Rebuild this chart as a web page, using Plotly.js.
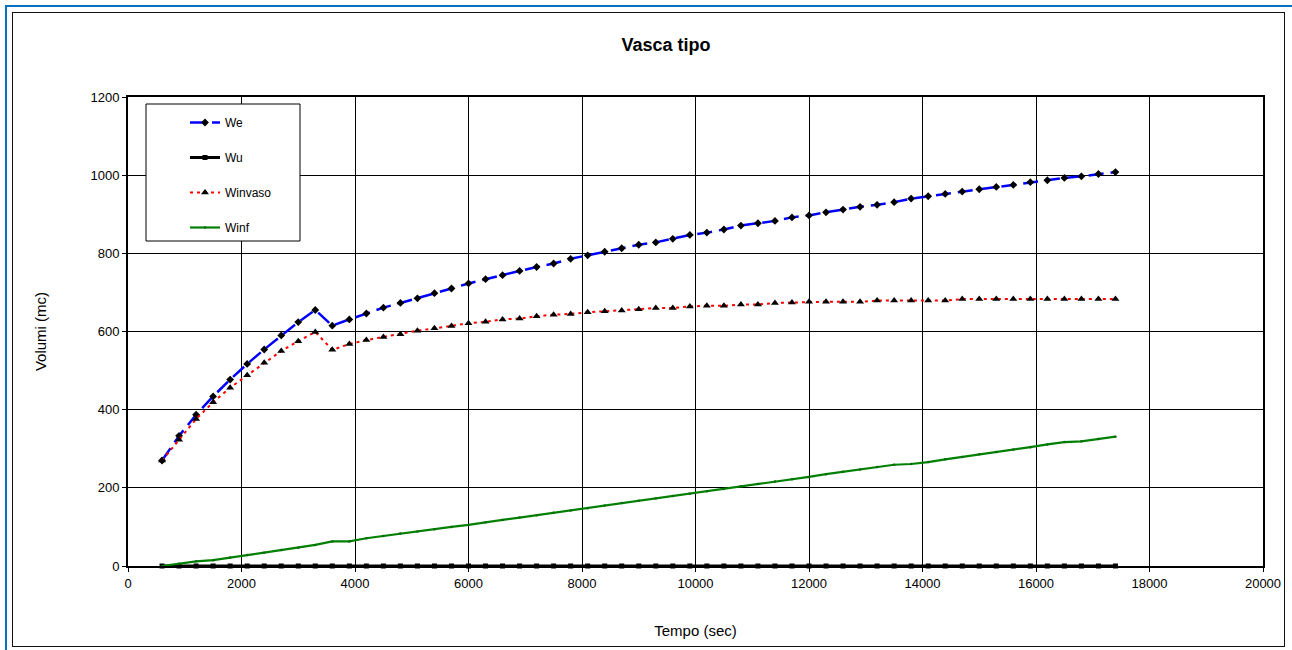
<!DOCTYPE html>
<html>
<head>
<meta charset="utf-8">
<script src="https://cdn.plot.ly/plotly-3.0.1.min.js"></script>
<style>
  html, body { margin: 0; padding: 0; background: #fff; }
  #wrap { position: relative; width: 1292px; height: 650px; overflow: hidden; }
  #chart { position: absolute; left: 0; top: 0; width: 1292px; height: 650px; }
  .frame-blue { position: absolute; left: 5px; top: 5px; width: 1300px; height: 660px; border-left: 2px solid #0a6fc2; border-top: 2px solid #0a6fc2; pointer-events: none; }
  .frame-black { position: absolute; left: 12px; top: 12px; width: 1271px; height: 633px; border: 1.5px solid #111; pointer-events: none; }
</style>
</head>
<body>
<div id="wrap">
  <div id="chart"></div>
  <div class="frame-blue"></div>
  <div class="frame-black"></div>
</div>
<script>
// Time (sec)
const tempo = [600, 900, 1200, 1500, 1800, 2100, 2400, 2700, 3000, 3300, 3600, 3900, 4200, 4500,
  4800, 5100, 5400, 5700, 6000, 6300, 6600, 6900, 7200, 7500, 7800, 8100, 8400, 8700, 9000, 9300,
  9600, 9900, 10200, 10500, 10800, 11100, 11400, 11700, 12000, 12300, 12600, 12900, 13200, 13500,
  13800, 14100, 14400, 14700, 15000, 15300, 15600, 15900, 16200, 16500, 16800, 17100, 17400];

const We = [270, 333, 387, 434, 477, 517, 554, 590, 624, 655, 615, 631, 646, 661,
  673, 685, 698, 710, 723, 734, 744, 755, 765, 774, 786, 795, 804, 813, 822, 828,
  837, 847, 853, 861, 871, 877, 883, 892, 897, 905, 912, 919, 924, 931,
  940, 946, 952, 958, 964, 970, 975, 982, 987, 993, 997, 1003, 1008];

const Wu = [0, 0, 0, 0, 0, 0, 0, 0, 0, 0, 0, 0, 0, 0,
  0, 0, 0, 0, 0, 0, 0, 0, 0, 0, 0, 0, 0, 0, 0, 0,
  0, 0, 0, 0, 0, 0, 0, 0, 0, 0, 0, 0, 0, 0,
  0, 0, 0, 0, 0, 0, 0, 0, 0, 0, 0, 0, 0];

const Winvaso = [270, 323, 376, 419, 456, 488, 520, 550, 575, 599, 553, 568, 578, 586,
  593, 602, 608, 614, 621, 625, 631, 633, 639, 643, 645, 649, 652, 654, 657, 660,
  660, 664, 666, 666, 669, 669, 673, 674, 676, 676, 676, 676, 679, 679,
  679, 679, 679, 683, 683, 683, 683, 683, 683, 683, 683, 683, 683];

const Winf = [0, 6, 12, 15, 22, 28, 34, 41, 47, 54, 63, 63, 71, 77,
  83, 88, 94, 100, 105, 112, 118, 124, 130, 136, 142, 148, 155, 161, 167, 173,
  179, 185, 191, 197, 204, 210, 216, 222, 228, 235, 241, 247, 253, 259,
  261, 266, 273, 279, 286, 292, 298, 304, 311, 317, 319, 325, 331];

const seriesNames = ['We', 'Wu', 'Winvaso', 'Winf'];

const FONT = 'Liberation Sans, Arial, Helvetica, sans-serif';

const traces = [
  {
    x: tempo, y: We, name: seriesNames[0], type: 'scatter', mode: 'lines+markers',
    legendgroup: 'g1', cliponaxis: false,
    line: { color: '#0000ff', width: 2.5, dash: '15px,7px' },
    marker: { symbol: 'diamond', size: 6, color: '#000' }
  },
  {
    x: tempo, y: Wu, name: seriesNames[1], type: 'scatter', mode: 'lines+markers',
    legendgroup: 'g2', cliponaxis: false,
    line: { color: '#000', width: 3 },
    marker: { symbol: 'square', size: 5, color: '#000' }
  },
  {
    x: tempo, y: Winvaso, name: seriesNames[2], type: 'scatter', mode: 'lines+markers',
    legendgroup: 'g3', cliponaxis: false,
    line: { color: '#ff0000', width: 2, dash: '3px,4px' },
    marker: { symbol: 'triangle-up', size: 7, color: '#000' }
  },
  {
    x: tempo, y: Winf, name: seriesNames[3], type: 'scatter', mode: 'lines+markers',
    legendgroup: 'g4', cliponaxis: false,
    line: { color: '#008000', width: 2.2 },
    marker: { symbol: 'circle', size: 2.5, color: '#0a6a0a' }
  }
];

const axisCommon = {
  showgrid: true, gridcolor: '#000', gridwidth: 1,
  showline: true, linecolor: '#000', linewidth: 2, mirror: true,
  ticks: 'outside', ticklen: 4, tickcolor: '#000', tickwidth: 1,
  zeroline: false, tickformat: 'd', automargin: false,
  tickfont: { family: FONT, size: 13, color: '#000' }
};

const layout = {
  width: 1292, height: 650,
  paper_bgcolor: '#fff', plot_bgcolor: '#fff',
  margin: { l: 128, r: 29, t: 97, b: 84, autoexpand: false },
  showlegend: true,
  title: {
    text: '<b>Vasca tipo</b>',
    font: { family: FONT, size: 18, color: '#000' },
    x: 666 / 1292, xref: 'container', xanchor: 'center',
    y: 1 - 45 / 650, yref: 'container', yanchor: 'middle'
  },
  xaxis: Object.assign({}, axisCommon, {
    range: [0, 20000], dtick: 2000, tick0: 0,
    title: { text: 'Tempo (sec)', font: { family: FONT, size: 15, color: '#000' }, standoff: 36 }
  }),
  yaxis: Object.assign({}, axisCommon, {
    range: [0, 1200], dtick: 200, tick0: 0,
    title: { text: 'Volumi (mc)', font: { family: FONT, size: 15, color: '#000' }, standoff: 40 }
  }),
  legend: {
    xref: 'paper', yref: 'paper',
    x: (185 - 128) / 1135, xanchor: 'left',
    y: (566 - 108) / 469, yanchor: 'top',
    bgcolor: 'rgba(0,0,0,0)', borderwidth: 0,
    font: { family: FONT, size: 12, color: '#000' },
    tracegroupgap: 16
  },
  shapes: [
    {
      type: 'rect', xref: 'paper', yref: 'paper', layer: 'above',
      x0: (146 - 128) / 1135, x1: (300 - 128) / 1135,
      y0: (566 - 241) / 469, y1: (566 - 104) / 469,
      fillcolor: '#fff', line: { color: '#000', width: 1 }
    }
  ]
};

Plotly.newPlot('chart', traces, layout, { displayModeBar: false, staticPlot: true });
</script>
</body>
</html>
